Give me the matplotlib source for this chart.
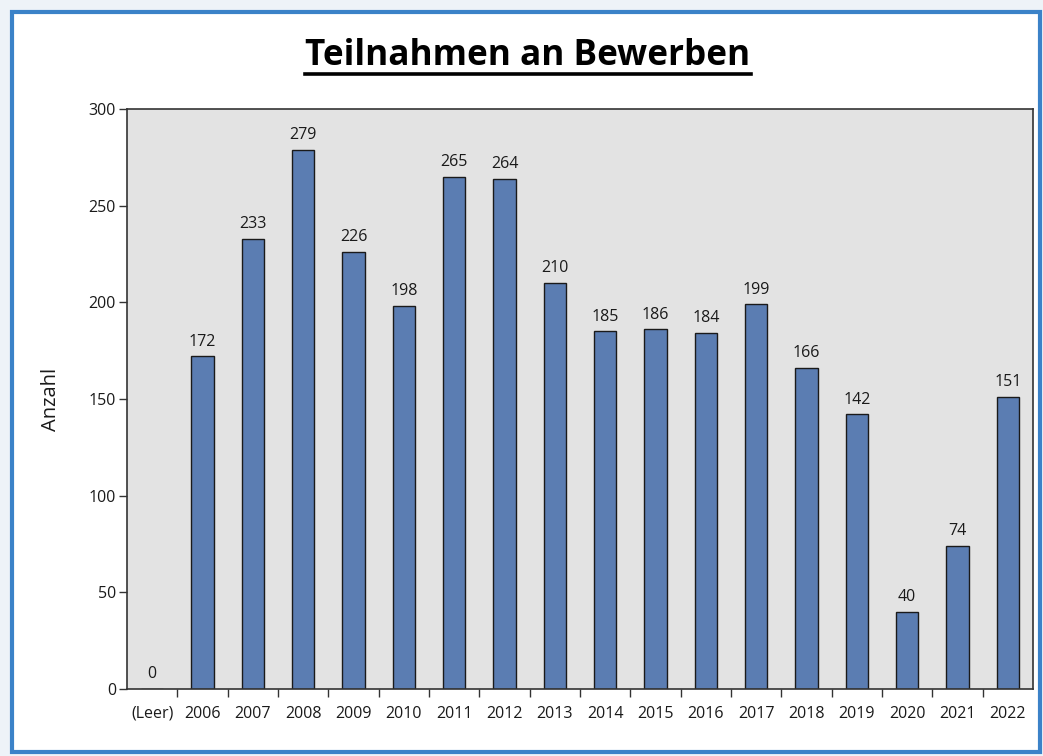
import matplotlib
matplotlib.use("Agg")
import matplotlib.pyplot as plt
from matplotlib.patches import Rectangle
from matplotlib.lines import Line2D

categories = ["(Leer)", "2006", "2007", "2008", "2009", "2010", "2011", "2012", "2013",
              "2014", "2015", "2016", "2017", "2018", "2019", "2020", "2021", "2022"]
values = [0, 172, 233, 279, 226, 198, 265, 264, 210, 185, 186, 184, 199, 166, 142, 40, 74, 151]
title = "Teilnahmen an Bewerben"
ylabel = "Anzahl"
yticks = [0, 50, 100, 150, 200, 250, 300]

plt.rcParams['font.family'] = ['Open Sans', 'DejaVu Sans']

W, H = 1043, 756
fig = plt.figure(figsize=(W / 100, H / 100), dpi=100)
fig.patch.set_facecolor("white")

# outer frame
fig.patches.append(Rectangle((0, 0), 1, 1, transform=fig.transFigure,
                             facecolor="#eef3f8", edgecolor="none", zorder=-3))
fig.patches.append(Rectangle((12 / W, 1 - 752 / H), (1040 - 12) / W, (752 - 12) / H,
                             transform=fig.transFigure, facecolor="white",
                             edgecolor="#3b82c8", linewidth=3, zorder=-2))

left, right, top, bottom = 127, 1033, 109, 689
ax = fig.add_axes([left / W, 1 - bottom / H, (right - left) / W, (bottom - top) / H])
ax.set_facecolor("#e3e3e3")

x = list(range(len(categories)))
bars = ax.bar(x, values, width=0.44, color="#5b7db2", edgecolor="#1a1a1a", linewidth=1.0, zorder=2)
for xi, v in zip(x, values):
    ax.text(xi, v + 3.5, str(v), ha="center", va="bottom", fontsize=11.5, color="#1a1a1a")

ax.set_xlim(-0.5, len(categories) - 0.5)
ax.set_ylim(0, 300)
ax.set_yticks(yticks)
ax.set_yticklabels([str(t) for t in yticks], fontsize=11.5, color="#1a1a1a")
ax.set_xticks(x)
ax.set_xticklabels(categories, fontsize=11.5, color="#1a1a1a")
ax.tick_params(axis="x", length=0, pad=12)
ax.set_xticks([i + 0.5 for i in range(len(categories) - 1)], minor=True)
ax.tick_params(axis="x", which="minor", length=6, width=1, color="#333333", direction="out")
ax.tick_params(axis="y", length=6, width=1, color="#333333", direction="out", pad=2)
for s in ax.spines.values():
    s.set_color("#333333")
    s.set_linewidth(1.2)

ax.set_ylabel(ylabel, fontsize=14.5, color="#1a1a1a", labelpad=20)

t = fig.text(528 / W, 1 - 56 / H, title, ha="center", va="center",
             fontsize=25.3, fontweight="bold", color="black")
fig.canvas.draw()
bb = t.get_window_extent(renderer=fig.canvas.get_renderer())
y_line = H - 74
fig.lines.append(Line2D([bb.x0 / W, bb.x1 / W], [y_line / H, y_line / H],
                        transform=fig.transFigure, color="black", linewidth=2.6))

fig.savefig("out.png", dpi=100)
